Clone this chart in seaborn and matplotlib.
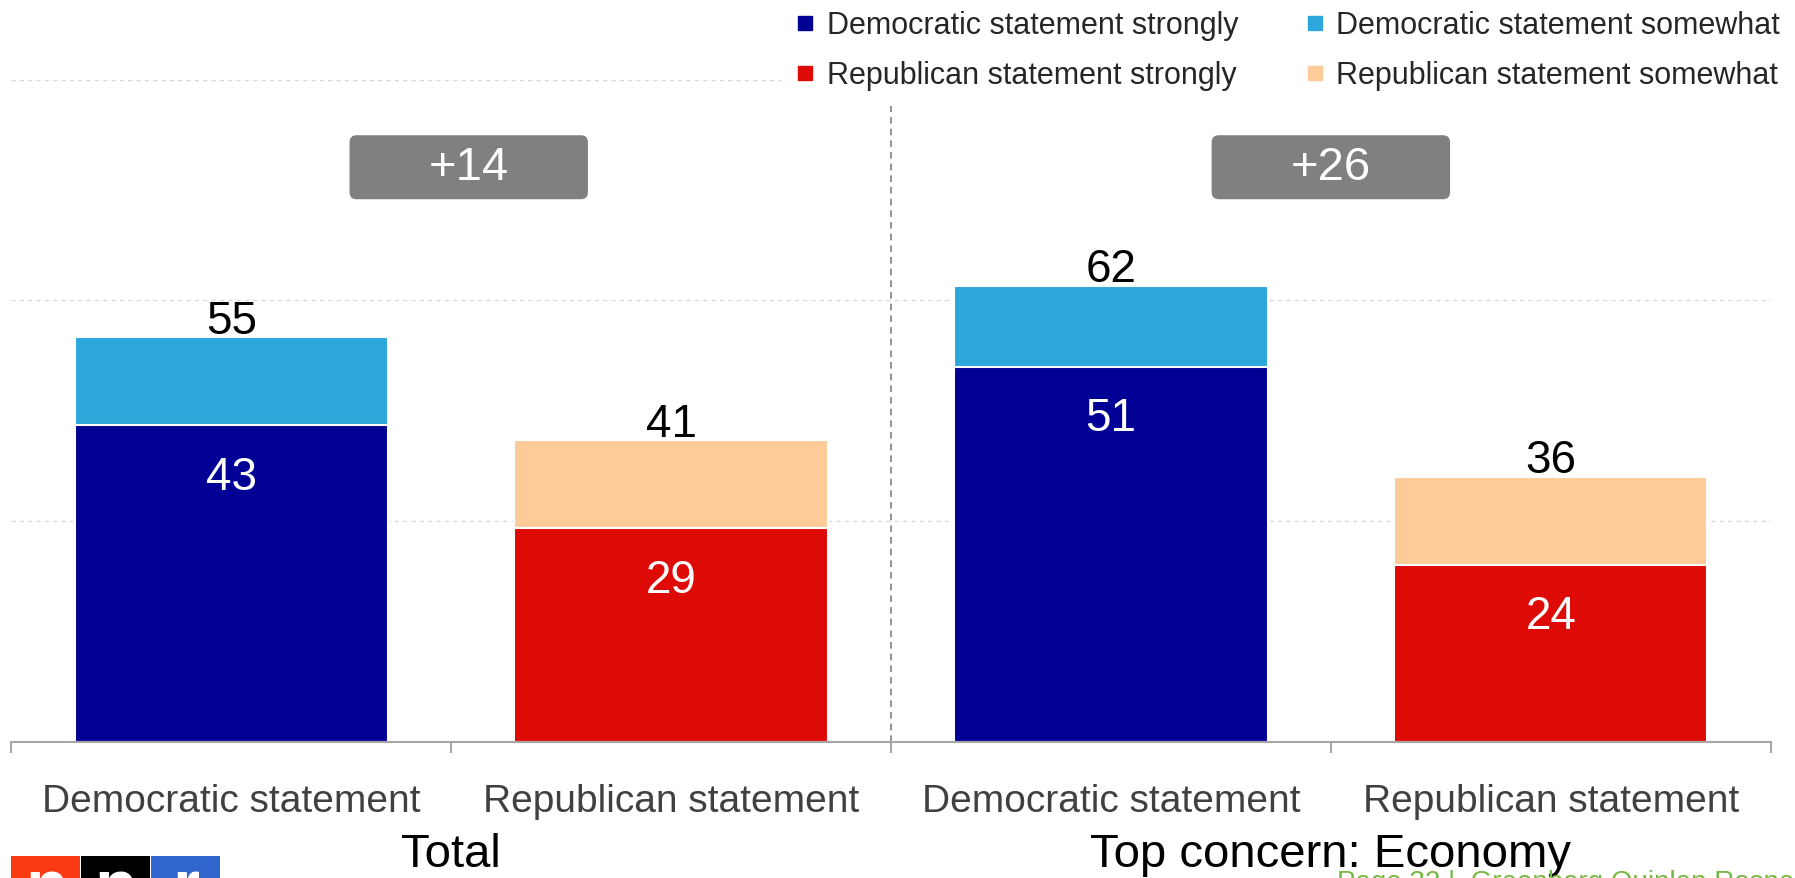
import numpy as np
import pandas as pd
import matplotlib
matplotlib.use("Agg")
import matplotlib.pyplot as plt
import seaborn as sns
from matplotlib.patches import FancyBboxPatch, Rectangle
from matplotlib.lines import Line2D

# ---------------- data ----------------
groups = ["Total", "Top concern: Economy"]
statements = ["Democratic statement", "Republican statement"]
strongly = [43, 29, 51, 24]          # strongly agree
totals = [55, 41, 62, 36]            # strongly + somewhat
legend_labels = ["Democratic statement strongly", "Democratic statement somewhat",
                 "Republican statement strongly", "Republican statement somewhat"]
footer_text = "Page 32 |  Greenberg Quinlan Rosner"
logo_letters = ["n", "p", "r"]

# ---------------- style ----------------
sns.set_theme(style="white")
plt.rcParams['font.family'] = ['Liberation Sans', 'DejaVu Sans']

DEM_STRONG = "#000094"
DEM_SOME = "#2DA6DC"
REP_STRONG = "#DE0A06"
REP_SOME = "#FFCC99"
BOX_GRAY = "#808080"

keys = [f"{g}|{s}" for g in groups for s in statements]
df = pd.DataFrame({"key": keys, "total": totals, "strong": strongly})

fig = plt.figure(figsize=(17.95, 8.79), dpi=100)
ax = fig.add_axes([0.0063, 0.15506, 0.98016, 0.75313])

BAR_W = 0.712
sns.barplot(data=df, x="key", y="total", hue="key", order=keys, hue_order=keys,
            palette=[DEM_SOME, REP_SOME, DEM_SOME, REP_SOME], width=BAR_W,
            dodge=False, legend=False, saturation=1, errorbar=None,
            edgecolor="white", linewidth=1.5, ax=ax)
sns.barplot(data=df, x="key", y="strong", hue="key", order=keys, hue_order=keys,
            palette=[DEM_STRONG, REP_STRONG, DEM_STRONG, REP_STRONG], width=BAR_W,
            dodge=False, legend=False, saturation=1, errorbar=None,
            edgecolor="white", linewidth=1.5, ax=ax)

ax.set_xlim(-0.5, 3.5)
ax.set_ylim(0, 90)
ax.set_xlabel("")
ax.set_ylabel("")

# x ticks
ax.set_xticks(range(len(keys)))
ax.set_xticklabels(statements * len(groups), fontsize=28, color="#404040")
ax.tick_params(axis="x", which="major", length=0, pad=30, bottom=True)
ax.set_xticks(np.arange(-0.5, len(keys), 1.0), minor=True)
ax.tick_params(axis="x", which="minor", length=8, width=1.5, color="#A6A6A6",
               direction="out", bottom=True)

# y grid
ax.set_yticks([30, 60, 90])
ax.tick_params(axis="y", left=False, labelleft=False)
ax.yaxis.grid(True, color="#D9D9D9", linestyle=(0, (3, 3)), linewidth=1.0)
ax.xaxis.grid(False)
ax.set_axisbelow(True)

for s in ["left", "top", "right"]:
    ax.spines[s].set_visible(False)
ax.spines["bottom"].set_color("#A6A6A6")
ax.spines["bottom"].set_linewidth(1.5)

# separator between groups
ax.axvline(1.5, ymin=0, ymax=87 / 90, color="#808080", lw=1.2,
           linestyle=(0, (4, 3)), zorder=0.5)

# value labels
for i, (t, s) in enumerate(zip(totals, strongly)):
    ax.text(i, t + 0.6, str(t), ha="center", va="baseline", fontsize=33, color="black")
    ax.text(i, s - 8.6, str(s), ha="center", va="baseline", fontsize=33, color="white")

# difference boxes
box_centers = [0.54, 2.5]
BOX_W, BOX_H, BOX_Y = 0.542, 8.7, 73.75
for gi, cx in enumerate(box_centers):
    diff = totals[2 * gi] - totals[2 * gi + 1]
    patch = FancyBboxPatch((cx - BOX_W / 2, BOX_Y), BOX_W, BOX_H,
                           boxstyle="round,pad=0,rounding_size=0.016",
                           mutation_aspect=60, fc=BOX_GRAY, ec="none", zorder=3)
    ax.add_patch(patch)
    ax.text(cx, BOX_Y + BOX_H / 2, f"+{diff}", ha="center", va="center",
            fontsize=34, color="white", zorder=4)

# group labels
for gi, g in enumerate(groups):
    ax.text(2 * gi + 0.5, -0.1873, g, transform=ax.get_xaxis_transform(),
            ha="center", va="baseline", fontsize=34, color="black")

# legend (filled column-first: row1 = Dem, row2 = Rep)
colors = [DEM_STRONG, DEM_SOME, REP_STRONG, REP_SOME]
order = [0, 2, 1, 3]
handles = [Line2D([], [], marker="s", linestyle="", color=colors[k],
                  markersize=10, label=legend_labels[k]) for k in order]
fig.legend(handles=handles, loc="upper left", bbox_to_anchor=(0.4351, 1.0046),
           ncol=2, fontsize=22, frameon=True, facecolor="white", edgecolor="none",
           framealpha=1, borderpad=0.5, handlelength=0.6, handletextpad=0.4,
           labelspacing=0.66, columnspacing=2.2, borderaxespad=0)

# footer
fig.text(1337 / 1795, -0.013, footer_text, ha="left", va="baseline",
         fontsize=20, color="#77B843")

# npr logo (partially cut off at the bottom)
logo_cols = ["#F93A13", "#000000", "#3166CF"]
for k, (c, letter) in enumerate(zip(logo_cols, logo_letters)):
    x0 = (11 + 70 * k) / 1795
    fig.add_artist(Rectangle((x0, -0.2), 69 / 1795, 0.2 + (879 - 857) / 879,
                             transform=fig.transFigure, fc=c, ec="none"))
    fig.text(x0 + 35 / 1795, -0.033, letter, ha="center", va="baseline",
             fontsize=50, fontweight="bold", color="white")

fig.savefig("out.png", dpi=100)
